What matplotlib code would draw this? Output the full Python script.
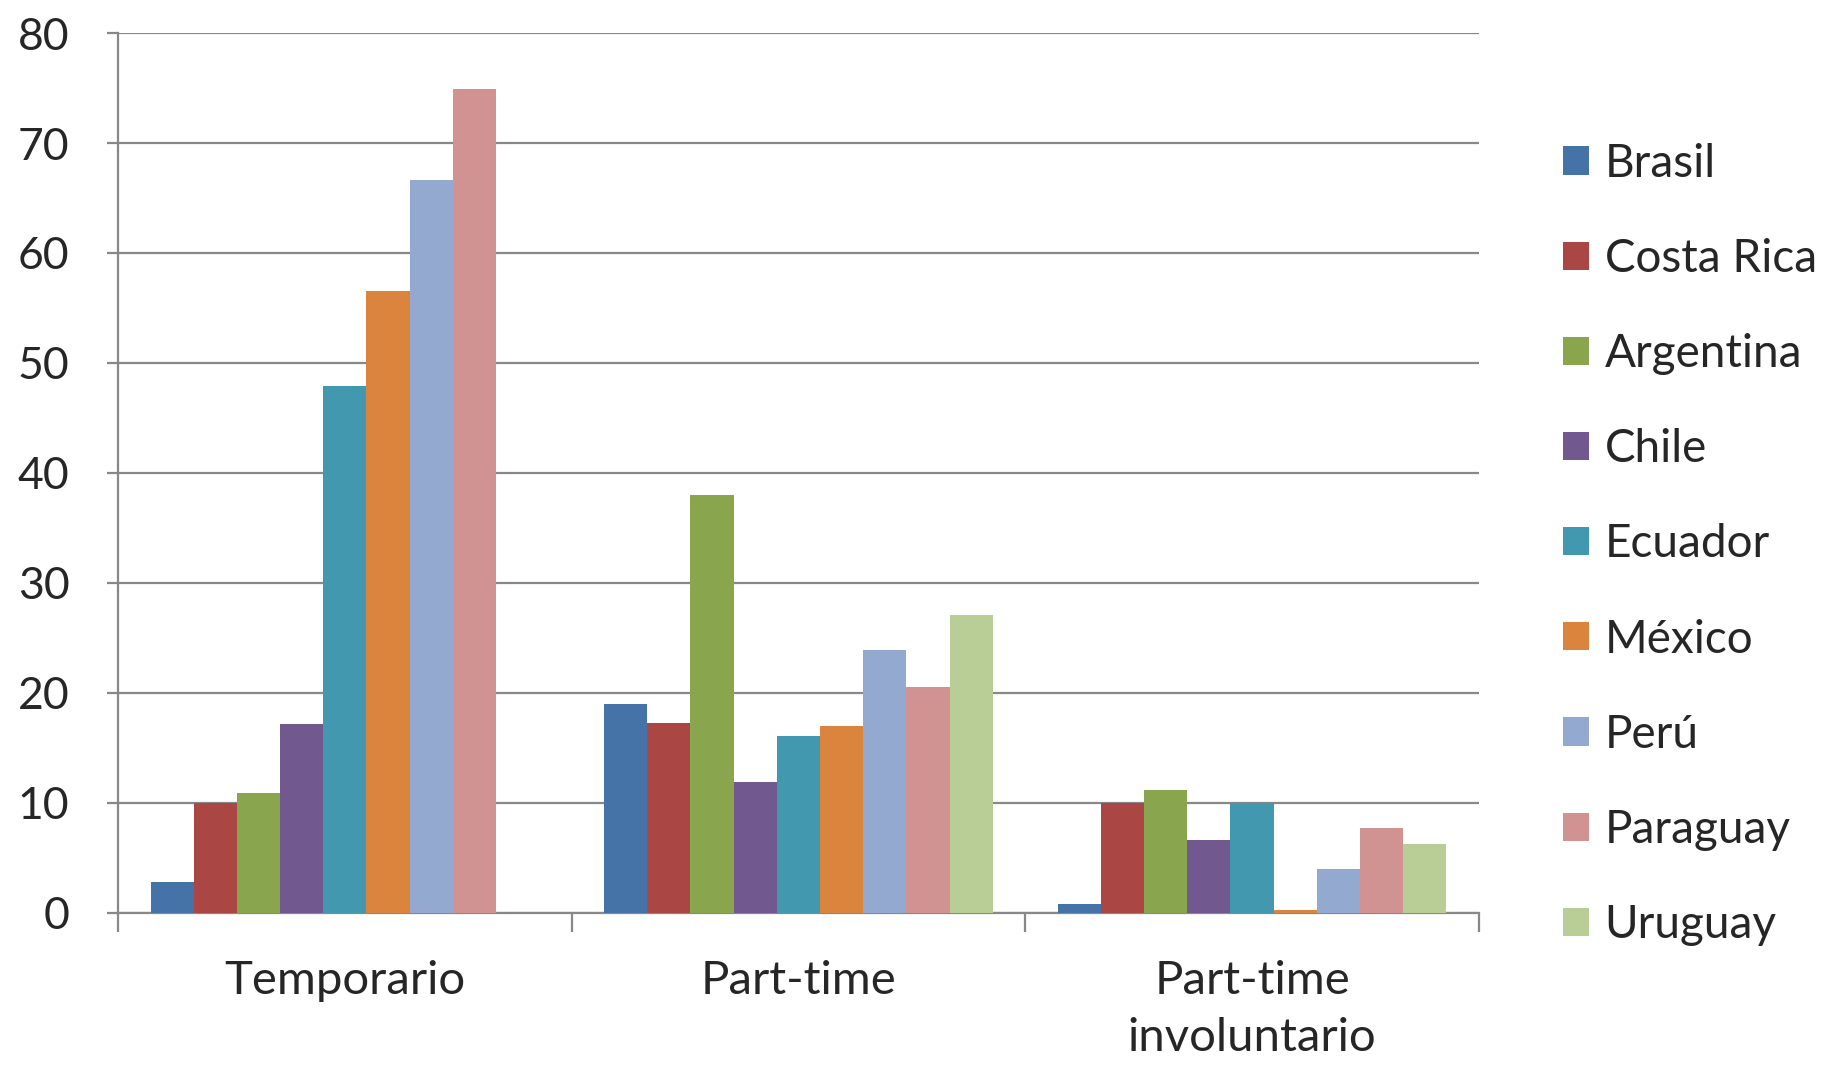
import numpy as np
import matplotlib
matplotlib.use('Agg')
import matplotlib.pyplot as plt

plt.rcParams['font.family'] = ['Lato', 'DejaVu Sans']

categories = ['Temporario', 'Part-time', 'Part-time\ninvoluntario']
countries = ['Brasil', 'Costa Rica', 'Argentina', 'Chile', 'Ecuador',
             'México', 'Perú', 'Paraguay', 'Uruguay']
colors = ['#4572A7', '#AA4643', '#89A54E', '#71588F', '#4198AF',
          '#DB843D', '#93A9CF', '#D19392', '#B9CD96']

brasil = [2.8, 19.0, 0.85]
costa_rica = [10.0, 17.3, 10.0]
argentina = [10.9, 38.0, 11.2]
chile = [17.2, 11.9, 6.6]
ecuador = [47.9, 16.1, 10.0]
mexico = [56.5, 17.0, 0.3]
peru = [66.6, 23.9, 4.0]
paraguay = [74.9, 20.5, 7.7]
uruguay = [np.nan, 27.1, 6.3]
series = [brasil, costa_rica, argentina, chile, ecuador, mexico, peru, paraguay, uruguay]

fig = plt.figure(figsize=(18.37, 10.65), dpi=100)
ax = fig.add_axes([0.0643, 0.1428, 0.7407, 0.8262])

n = len(series)
w = 1.0 / (n + 1.5)
x = np.arange(len(categories))
for i, (vals, c, name) in enumerate(zip(series, colors, countries)):
    ax.bar(x - 0.5 + 0.75 * w + (i + 0.5) * w, vals, width=w, color=c,
           label=name, zorder=3)

ax.set_xlim(-0.5, 2.5)
ax.set_ylim(0, 80)
ax.set_yticks(range(0, 81, 10))
ax.yaxis.grid(True, color='#888888', linewidth=1.6, zorder=0)
ax.set_axisbelow(True)
for s in ['top', 'right']:
    ax.spines[s].set_visible(False)
for s in ['left', 'bottom']:
    ax.spines[s].set_color('#888888')
    ax.spines[s].set_linewidth(1.6)

ax.set_xticks(x)
ax.set_xticklabels(categories, fontsize=34, color='#262626', linespacing=1.45)
ax.tick_params(axis='x', length=0, pad=34)
ax.set_xticks([-0.5, 0.5, 1.5, 2.5], minor=True)
ax.tick_params(axis='x', which='minor', length=14, width=1.6, color='#888888')
ax.tick_params(axis='y', labelsize=32, labelcolor='#262626', length=8,
               width=1.6, color='#888888', pad=27)

fig.legend(loc='upper left', bbox_to_anchor=(0.851, 0.866),
           frameon=False, fontsize=33, borderpad=0, borderaxespad=0,
           handlelength=0.57, handleheight=0.57, handletextpad=0.33,
           labelspacing=1.16, labelcolor='#262626')

fig.savefig('out.png', dpi=100)
